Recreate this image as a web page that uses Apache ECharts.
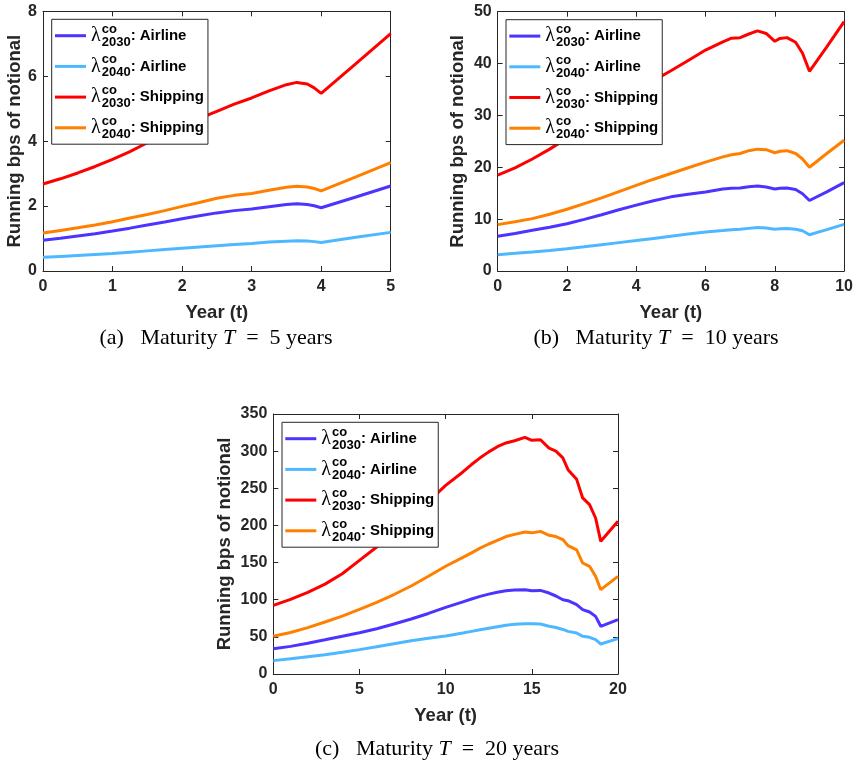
<!DOCTYPE html>
<html>
<head>
<meta charset="utf-8">
<script src="https://cdn.jsdelivr.net/npm/echarts@6/dist/echarts.min.js"></script>
<style>
html,body{margin:0;padding:0;background:#fff;}
#chart{width:856px;height:765px;}
</style>
</head>
<body>
<div id="chart"></div>
<script>
// ---------------- data ----------------
const legendYears = ['2030', '2040', '2030', '2040'];
const legendSectors = ['Airline', 'Airline', 'Shipping', 'Shipping'];
const seriesNames = ['λ2030: Airline', 'λ2040: Airline', 'λ2030: Shipping', 'λ2040: Shipping'];

// (a) Maturity T = 5 years
const tA = [0,0.25,0.5,0.75,1,1.25,1.5,1.75,2,2.25,2.5,2.75,3,3.25,3.5,3.65,3.8,3.9,4,4.5,5];
const a2030Airline = [0.95,1.01,1.08,1.15,1.23,1.32,1.42,1.51,1.61,1.70,1.79,1.86,1.91,1.98,2.05,2.07,2.05,2.01,1.95,2.28,2.62];
const a2040Airline = [0.42,0.45,0.48,0.51,0.54,0.58,0.62,0.66,0.70,0.74,0.78,0.82,0.85,0.89,0.92,0.93,0.925,0.905,0.88,1.04,1.19];
const a2030Shipping = [2.68,2.84,3.02,3.22,3.44,3.68,3.95,4.21,4.46,4.70,4.92,5.14,5.33,5.55,5.74,5.81,5.76,5.64,5.47,6.39,7.31];
const a2040Shipping = [1.17,1.25,1.33,1.42,1.52,1.63,1.74,1.86,1.99,2.11,2.24,2.33,2.39,2.49,2.58,2.61,2.59,2.54,2.47,2.90,3.34];

// (b) Maturity T = 10 years
const tB = [0,0.5,1,1.5,2,2.5,3,3.5,4,4.5,5,5.5,6,6.5,6.75,7,7.25,7.5,7.75,8,8.15,8.35,8.6,8.8,9,9.5,10];
const b2030Airline = [6.7,7.25,7.85,8.45,9.1,9.95,10.85,11.8,12.7,13.55,14.3,14.8,15.25,15.8,15.95,16.0,16.25,16.4,16.2,15.8,15.95,16.0,15.7,14.9,13.6,15.25,17.05];
const b2040Airline = [3.15,3.4,3.67,3.97,4.3,4.68,5.08,5.47,5.86,6.28,6.7,7.12,7.53,7.8,7.95,8.04,8.22,8.37,8.28,8.04,8.15,8.2,8.05,7.75,7.0,7.98,9.0];
const b2030Shipping = [18.5,19.9,21.6,23.5,25.6,27.8,30.1,32.4,34.6,36.7,38.6,40.6,42.6,44.2,44.9,45.0,45.7,46.3,45.8,44.3,44.85,45.0,44.1,42.0,38.5,43.2,48.1];
const b2040Shipping = [8.94,9.5,10.1,10.95,11.9,13.0,14.1,15.3,16.5,17.7,18.8,19.9,21.0,22.0,22.4,22.65,23.2,23.5,23.4,22.8,23.1,23.2,22.65,21.6,20.0,22.65,25.2];

// (c) Maturity T = 20 years
const tC = [0,1,2,3,4,5,6,7,8,9,10,11,11.5,12,12.5,13,13.5,14,14.6,15,15.5,16,16.4,16.8,17.1,17.6,17.95,18.35,18.7,19,20];
const c2030Airline = [34,37.2,41.5,46,50.7,55.5,61,67.3,74,81.5,89.7,97,101,104.5,107.5,110,112,113,113.5,112.2,112.5,109,105,100,98.7,93.3,86.6,83.5,77.6,64.2,73.1];
const c2040Airline = [18,20.6,23.3,26,29.2,32.8,36.8,40.8,44.8,48.2,51.2,55.3,57.4,59.5,61.5,63.5,65.5,67,67.8,67.8,67.3,64.2,62.5,60,57.4,55.2,50.7,49.4,46.2,40.4,47.6];
const c2030Shipping = [92.4,100.5,110,121,135,153,171,190,210,232,254,272,282,291,299,306,311,314,318.6,314.6,315.4,304,300,291,275,262,237,228,210,178.6,205.5];
const c2040Shipping = [50.7,55.8,62.5,70,78,87,96.5,107,118.5,131.5,145,157,163,169.5,175,180,185,188,191.2,190,192,186.7,185,181,172.8,167,149.4,145,131.5,113.5,131.5];

// axis ticks
const xTicksA = {min: 0, max: 5, interval: 1};
const yTicksA = {min: 0, max: 8, interval: 2};
const xTicksB = {min: 0, max: 10, interval: 2};
const yTicksB = {min: 0, max: 50, interval: 10};
const xTicksC = {min: 0, max: 20, interval: 5};
const yTicksC = {min: 0, max: 350, interval: 50};

const captions = [
  {tag: '(a)', T: '5'},
  {tag: '(b)', T: '10'},
  {tag: '(c)', T: '20'}
];

// ---------------- styling ----------------
const colors = ['#4d33ff', '#4db8ff', '#ff0000', '#ff8000'];
const axisColor = '#262626';
const sansFont = 'Liberation Sans, Arial, Helvetica, sans-serif';
const serifFont = 'Liberation Serif, Times New Roman, serif';

const grids = [
  {left: 43, top: 11.3, width: 347.7, height: 259.7},
  {left: 497.7, top: 11.7, width: 347.6, height: 259.3},
  {left: 273.3, top: 414, width: 344.7, height: 260}
];
const xTicks = [xTicksA, xTicksB, xTicksC];
const yTicks = [yTicksA, yTicksB, yTicksC];
const yNameGaps = [19, 30, 39];
const legendPos = [
  {left: 51.7, top: 19.3},
  {left: 506, top: 19.7},
  {left: 282, top: 422.3}
];
const captionPos = [[216, 338], [656, 338], [437, 749]];

const panelData = [
  [tA, [a2030Airline, a2040Airline, a2030Shipping, a2040Shipping]],
  [tB, [b2030Airline, b2040Airline, b2030Shipping, b2040Shipping]],
  [tC, [c2030Airline, c2040Airline, c2030Shipping, c2040Shipping]]
];

const xAxes = [], yAxes = [], series = [], legends = [], graphics = [];

grids.forEach((g, gi) => {
  const baseAxis = {
    type: 'value',
    gridIndex: gi,
    axisLine: {show: true, onZero: false, lineStyle: {color: axisColor, width: 1}},
    axisTick: {show: true, inside: true, length: 5, lineStyle: {color: axisColor, width: 1}},
    splitLine: {show: false}
  };
  xAxes.push(Object.assign({}, baseAxis, xTicks[gi], {
    position: 'bottom',
    name: 'Year (t)',
    nameLocation: 'middle',
    nameGap: 32,
    nameTextStyle: {fontFamily: sansFont, fontWeight: 'bold', fontSize: 18.5, color: axisColor},
    axisLabel: {show: true, margin: 8, fontFamily: sansFont, fontWeight: 'bold', fontSize: 16, color: axisColor}
  }));
  xAxes.push(Object.assign({}, baseAxis, xTicks[gi], {
    position: 'top',
    axisLabel: {show: false}
  }));
  yAxes.push(Object.assign({}, baseAxis, yTicks[gi], {
    position: 'left',
    name: 'Running bps of notional',
    nameLocation: 'middle',
    nameGap: yNameGaps[gi],
    nameRotate: 90,
    nameTextStyle: {fontFamily: sansFont, fontWeight: 'bold', fontSize: 18.5, color: axisColor},
    axisLabel: {show: true, margin: 6, fontFamily: sansFont, fontWeight: 'bold', fontSize: 16, color: axisColor}
  }));
  yAxes.push(Object.assign({}, baseAxis, yTicks[gi], {
    position: 'right',
    axisLabel: {show: false}
  }));

  const [ts, vals] = panelData[gi];
  vals.forEach((arr, si) => {
    series.push({
      type: 'line',
      name: seriesNames[si],
      xAxisIndex: gi * 2,
      yAxisIndex: gi * 2,
      data: ts.map((t, i) => [t, arr[i]]),
      showSymbol: false,
      symbol: 'none',
      color: colors[si],
      lineStyle: {width: 3, color: colors[si]},
      z: 2,
      silent: true
    });
  });

  legends.push({
    orient: 'vertical',
    left: legendPos[gi].left,
    top: legendPos[gi].top,
    data: seriesNames,
    icon: 'rect',
    itemWidth: 31,
    itemHeight: 3,
    itemGap: 4.7,
    padding: [3.4, 4, 3.4, 3.3],
    borderColor: '#262626',
    borderWidth: 1,
    backgroundColor: '#ffffff',
    selectedMode: false,
    formatter: function (name) {
      const k = seriesNames.indexOf(name);
      return '{l|λ}{sup|co}{sub|' + legendYears[k] + '}{t|: ' + legendSectors[k] + '}';
    },
    textStyle: {
      color: '#000',
      rich: {
        l: {fontFamily: serifFont, fontSize: 20, color: '#000', lineHeight: 26, padding: [0, 1, 0, 0]},
        sup: {fontFamily: sansFont, fontWeight: 'bold', fontSize: 13, color: '#000', width: 0.01, verticalAlign: 'top', lineHeight: 12},
        sub: {fontFamily: sansFont, fontWeight: 'bold', fontSize: 13, color: '#000', verticalAlign: 'bottom', lineHeight: 12.4},
        t: {fontFamily: sansFont, fontWeight: 'bold', fontSize: 15, color: '#000', lineHeight: 26}
      }
    }
  });

  const cap = captions[gi];
  graphics.push({
    type: 'text',
    x: captionPos[gi][0],
    y: captionPos[gi][1],
    silent: true,
    style: {
      text: '{n|' + cap.tag + '   Maturity }{i|T}{n|  =  ' + cap.T + ' years}',
      align: 'center',
      verticalAlign: 'middle',
      rich: {
        n: {fontFamily: serifFont, fontSize: 22, fill: '#000', color: '#000'},
        i: {fontFamily: serifFont, fontSize: 22, fontStyle: 'italic', fill: '#000', color: '#000'}
      }
    }
  });
});

const chart = echarts.init(document.getElementById('chart'), null, {renderer: 'canvas'});
chart.setOption({
  backgroundColor: '#ffffff',
  animation: false,
  grid: grids.map(g => Object.assign({containLabel: false}, g)),
  xAxis: xAxes,
  yAxis: yAxes,
  legend: legends,
  series: series,
  graphic: graphics
});
</script>
</body>
</html>
